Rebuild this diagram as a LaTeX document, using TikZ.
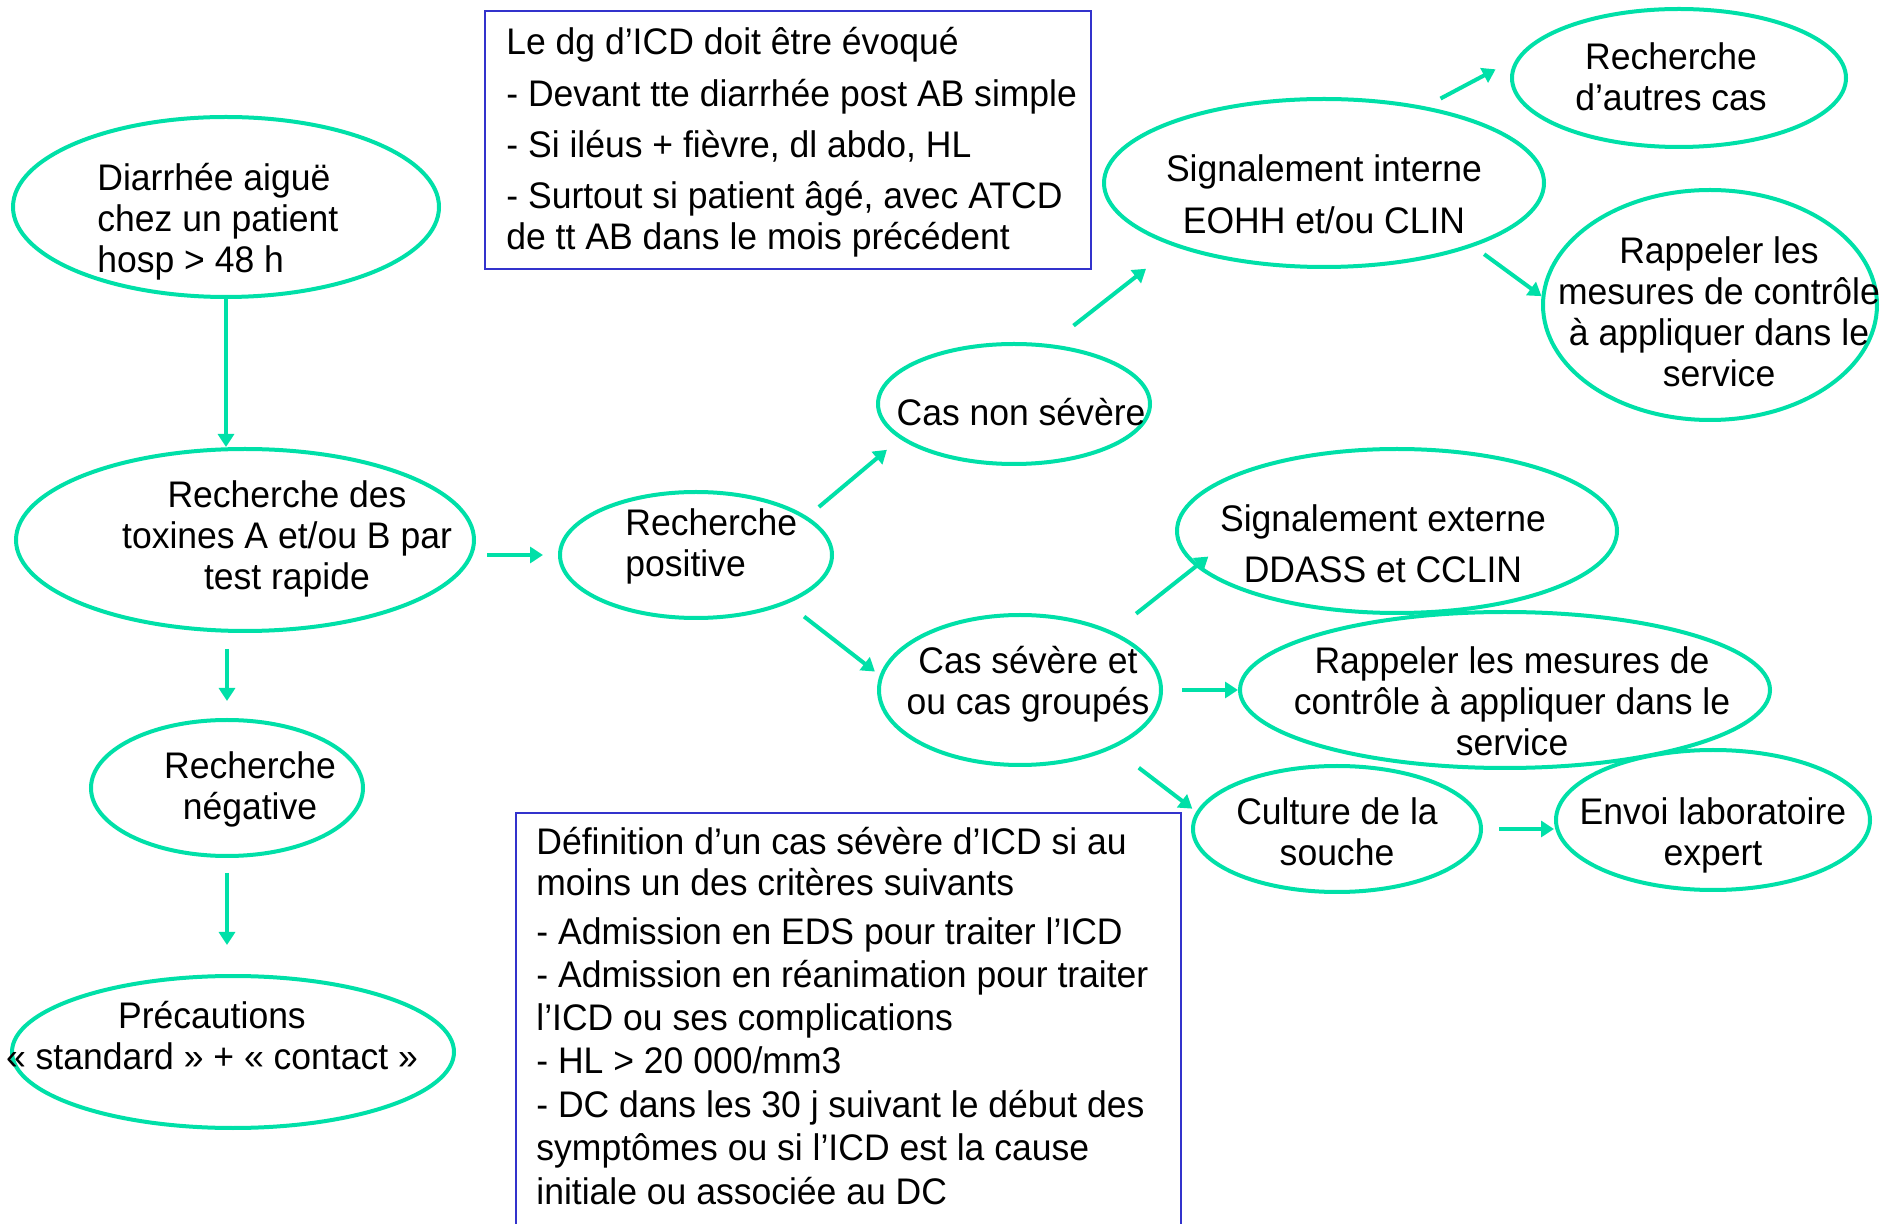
\documentclass[tikz,border=0pt]{standalone}
\usepackage{fontspec}
\setmainfont[FakeStretch=0.96]{Liberation Sans}
\usepackage{tikz}
\usetikzlibrary{arrows.meta,shapes.geometric}
\definecolor{fxgreen}{RGB}{0,224,168}
\definecolor{fxblue}{RGB}{51,51,204}
\tikzset{
  fxell/.style={ellipse, draw=fxgreen, line width=2pt, inner sep=0pt},
  fxtext/.style={inner sep=0pt, align=center, font=\fontsize{18.5pt}{20.5pt}\selectfont},
  fxbox/.style={draw=fxblue, line width=1pt, inner sep=0pt},
  fxline/.style={-{Triangle[length=6.5pt,width=8pt]}, draw=fxgreen, line width=2pt}
}
\begin{document}
\begin{tikzpicture}[x=0.5pt,y=-0.5pt]
  \useasboundingbox (0,0) rectangle (1892,1224);
  \clip (0,0) rectangle (1892,1224);
  \fill[white] (0,0) rectangle (1892,1224);

  \node[fxell, minimum width=213pt, minimum height=90pt] (diar) at (226,207) {};
  \node[fxell, minimum width=229pt, minimum height=91pt] (tox) at (245,540) {};
  \node[fxell, minimum width=136pt, minimum height=63pt] (pos) at (696,555) {};
  \node[fxell, minimum width=136pt, minimum height=68pt] (neg) at (227,788) {};
  \node[fxell, minimum width=221pt, minimum height=76pt] (prec) at (233,1052) {};
  \node[fxell, minimum width=136pt, minimum height=60pt] (nonsev) at (1014,404) {};
  \node[fxell, minimum width=220pt, minimum height=84pt] (sigint) at (1324,183) {};
  \node[fxell, minimum width=167pt, minimum height=69pt] (autres) at (1679,78) {};
  \node[fxell, minimum width=167pt, minimum height=115pt] (rapp1) at (1710,305) {};
  \node[fxell, minimum width=220pt, minimum height=82pt] (sigext) at (1397,531) {};
  \node[fxell, minimum width=141pt, minimum height=75pt] (sev) at (1020,690) {};
  \node[fxell, minimum width=265pt, minimum height=78pt] (rapp2) at (1505,690) {};
  \node[fxell, minimum width=144pt, minimum height=63pt] (cult) at (1337,829) {};
  \node[fxell, minimum width=157pt, minimum height=70pt] (envoi) at (1713,820) {};

  \node[fxtext, align=left, anchor=north west] (diar-t) at (97,163) {Diarrhée aiguë\\chez un patient\\hosp > 48 h};
  \node[fxtext, anchor=north] (tox-t) at (287,480) {Recherche des\\toxines A et/ou B par\\test rapide};
  \node[fxtext, align=left, anchor=north west] (pos-t) at (625,508) {Recherche\\positive};
  \node[fxtext, anchor=north] (neg-t) at (250,751) {Recherche\\négative};
  \node[fxtext, anchor=north] (prec-t) at (212,1001) {Précautions\\« standard » + « contact »};
  \node[fxtext, anchor=north] (nonsev-t) at (1021,398) {Cas non sévère};
  \node[fxtext, anchor=north] (sigint-t) at (1324,154) {Signalement interne\\[5.5pt]EOHH et/ou CLIN};
  \node[fxtext, anchor=north] (autres-t) at (1671,42) {Recherche\\d’autres cas};
  \node[fxtext, anchor=north] (rapp1-t) at (1719,236) {Rappeler les\\mesures de contrôle\\à appliquer dans le\\service};
  \node[fxtext, anchor=north] (sigext-t) at (1383,504) {Signalement externe\\[5pt]DDASS et CCLIN};
  \node[fxtext, anchor=north] (sev-t) at (1028,646) {Cas sévère et\\ou cas groupés};
  \node[fxtext, anchor=north] (rapp2-t) at (1512,646) {Rappeler les mesures de\\contrôle à appliquer dans le\\service};
  \node[fxtext, anchor=north] (cult-t) at (1337,797) {Culture de la\\souche};
  \node[fxtext, anchor=north] (envoi-t) at (1713,797) {Envoi laboratoire\\expert};

  \node[fxbox, minimum width=303pt, minimum height=129pt, anchor=north west] (dgbox) at (484,10) {};
  \node[fxtext, align=left, anchor=north west] (dgbox-t) at (506,27) {Le dg d’ICD doit être évoqué\\[5.5pt]- Devant tte diarrhée post AB simple\\[5pt]- Si iléus + fièvre, dl abdo, HL\\[5pt]- Surtout si patient âgé, avec ATCD\\de tt AB dans le mois précédent};

  \node[fxbox, minimum width=332.5pt, minimum height=214pt, anchor=north west] (defbox) at (515,812) {};
  \node[fxtext, align=left, anchor=north west] (defbox-t) at (536,827) {Définition d’un cas sévère d’ICD si au\\moins un des critères suivants\\[4pt]- Admission en EDS pour traiter l'ICD\\[1pt]- Admission en réanimation pour traiter\\[1pt]l'ICD ou ses complications\\[1pt]- HL > 20 000/mm3\\[1.5pt]- DC dans les 30 j suivant le début des\\[1pt]symptômes ou si l'ICD est la cause\\[1.5pt]initiale ou associée au DC};

  \draw[fxline] (diar.south) -- (diar.south |- tox.north);
  \draw[fxline, shorten <=5.5pt, shorten >=7.5pt] (tox.east |- pos.west) -- (pos.west);
  \draw[fxline, shorten <=8pt, shorten >=8.5pt] (neg.north |- tox.south) -- (neg.north);
  \draw[fxline, shorten <=7.5pt, shorten >=14.5pt] (neg.south) -- (neg.south |- prec.north);
  \draw[fxline, shorten <=7.5pt, shorten >=8.5pt] (pos.19) -- (nonsev.197);
  \draw[fxline, shorten <=10.5pt, shorten >=3pt] (pos.-28) -- (sev.174);
  \draw[fxline, shorten <=15pt, shorten >=18pt] (nonsev.59) -- (sigint.203);
  \draw[fxline, shorten <=8.5pt, shorten >=12pt] (sigint.37) -- (autres.173);
  \draw[fxline, shorten <=6.5pt] (sigint.-23) -- (rapp1.177);
  \draw[fxline, shorten <=14.5pt, shorten >=-8pt] (sev.32) -- (sigext.190);
  \draw[fxline, shorten <=9.5pt] (sev.east) -- (rapp2.west);
  \draw[fxline, shorten <=16pt, shorten >=2.5pt] (sev.-32) -- (cult.173);
  \draw[fxline, shorten <=8pt] (cult.east) -- (cult.east -| envoi.west);
\end{tikzpicture}
\end{document}
